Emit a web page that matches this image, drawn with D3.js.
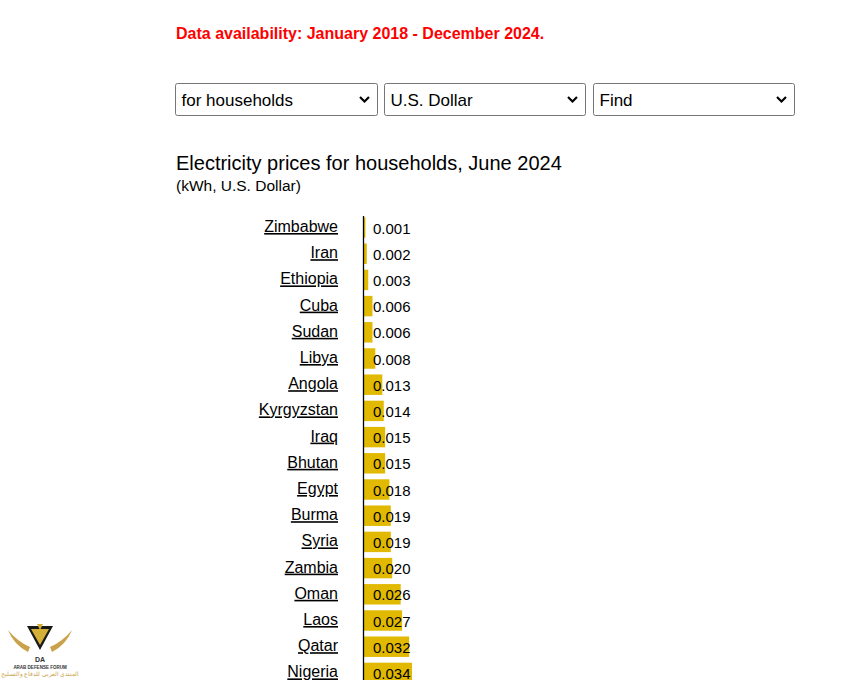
<!DOCTYPE html>
<html><head><meta charset="utf-8">
<script src="https://cdn.jsdelivr.net/npm/d3@7"></script>
<style>
html,body{margin:0;padding:0;background:#fff;}
svg{display:block;font-family:"Liberation Sans",Arial,sans-serif;}
</style></head>
<body>
<svg id="c" width="848" height="680"></svg>
<script>
const countries = ["Zimbabwe","Iran","Ethiopia","Cuba","Sudan","Libya","Angola","Kyrgyzstan","Iraq","Bhutan","Egypt","Burma","Syria","Zambia","Oman","Laos","Qatar","Nigeria"];
const values = [0.001,0.002,0.003,0.006,0.006,0.008,0.013,0.014,0.015,0.015,0.018,0.019,0.019,0.020,0.026,0.027,0.032,0.034];
const dropdownLabels = ["for households","U.S. Dollar","Find"];
const availability = "Data availability: January 2018 - December 2024.";
const title = "Electricity prices for households, June 2024";
const subtitle = "(kWh, U.S. Dollar)";

const svg = d3.select("#c");

svg.append("text").attr("x",176).attr("y",39).attr("fill","#ff0000")
  .attr("font-weight","bold").attr("font-size",16).text(availability);

// dropdowns
const ddX = [175.5,384.5,593.5], ddW = [202,201,201];
dropdownLabels.forEach((lab,i)=>{
  const g = svg.append("g").attr("transform",`translate(${ddX[i]},83.5)`);
  g.append("rect").attr("width",ddW[i]).attr("height",32).attr("rx",2)
    .attr("fill","#fff").attr("stroke","#767676").attr("stroke-width",1);
  g.append("text").attr("x",6).attr("y",22.5).attr("font-size",17).attr("fill","#000").text(lab);
  const cx = ddW[i]-13;
  g.append("path").attr("d",`M${cx-4.5},13.5 L${cx},18 L${cx+4.5},13.5`)
    .attr("fill","none").attr("stroke","#000").attr("stroke-width",2.2);
});

svg.append("text").attr("x",176).attr("y",170).attr("font-size",20).attr("fill","#000").text(title);
svg.append("text").attr("x",176).attr("y",191).attr("font-size",15.5).attr("fill","#000").text(subtitle);

const step = 26.2, y0 = 214.4;
const y = d3.scaleBand().domain(countries).range([y0, y0+step*countries.length])
  .paddingInner(0.22).paddingOuter(0.11);
const x = d3.scaleLinear().domain([0,0.1]).range([364, 364+141.1]);

const rows = svg.append("g").selectAll("g").data(countries).join("g");
rows.append("rect").attr("x",x(0)).attr("y",d=>y(d))
  .attr("width",(d,i)=>x(values[i])-x(0)).attr("height",y.bandwidth())
  .attr("fill","#e0b900");
rows.append("text").attr("x",338).attr("y",d=>y(d)+y.bandwidth()/2+4.5)
  .attr("text-anchor","end").attr("font-size",16).attr("fill","#000")
  .attr("text-decoration","underline").text(d=>d);
rows.append("text").attr("x",373).attr("y",d=>y(d)+y.bandwidth()/2+6)
  .attr("font-size",15).attr("fill","#000").text((d,i)=>d3.format(".3f")(values[i]));

svg.append("line").attr("x1",363.5).attr("x2",363.5).attr("y1",216).attr("y2",680)
  .attr("stroke","#000").attr("stroke-width",1.3);

// watermark logo
const lg = svg.append("g").attr("transform","translate(40,640)");
lg.append("path").attr("d","M-32,-10 Q-22,2 -10,7 L-12,12 Q-26,5 -32,-10Z M32,-10 Q22,2 10,7 L12,12 Q26,5 32,-10Z").attr("fill","#c9a24a");
lg.append("path").attr("d","M-13,-14 L13,-14 L0,10 Z").attr("fill","#1a1a1a");
lg.append("path").attr("d","M-9,-11 L9,-11 L0,5 Z").attr("fill","#d4af37");
lg.append("path").attr("d","M-3,-16 L3,-16 L0,-10 Z").attr("fill","#d4af37");
lg.append("text").attr("x",0).attr("y",22).attr("text-anchor","middle").attr("font-size",7).attr("font-weight","bold").attr("fill","#333").text("DA");
lg.append("text").attr("x",0).attr("y",29).attr("text-anchor","middle").attr("font-size",4.5).attr("font-weight","bold").attr("fill","#333").text("ARAB DEFENSE FORUM");
lg.append("text").attr("x",0).attr("y",36).attr("text-anchor","middle").attr("font-size",5.5).attr("fill","#c9a24a").text("المنتدى العربي للدفاع والتسليح");
</script>
</body></html>
